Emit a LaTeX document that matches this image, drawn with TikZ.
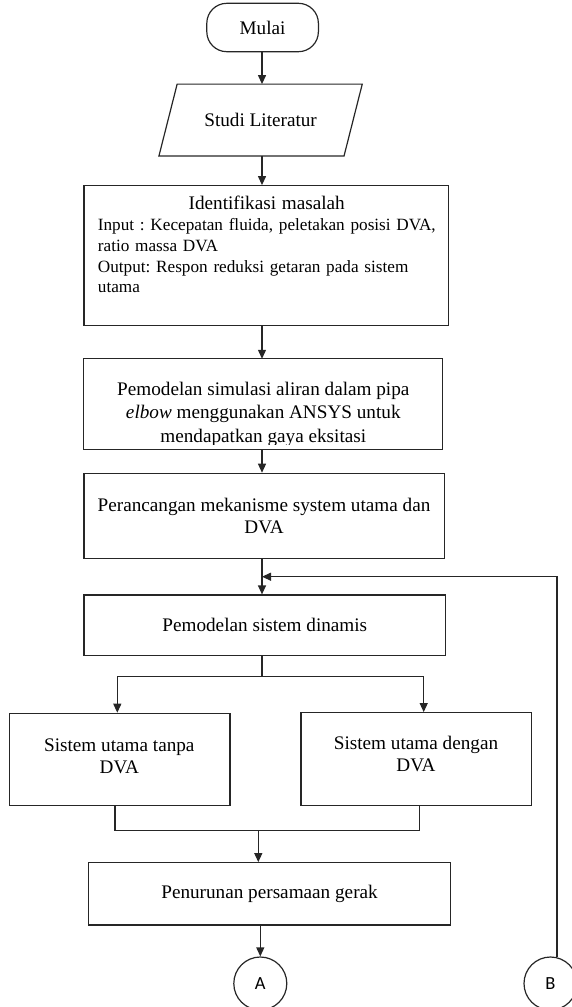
\documentclass[tikz,border=0pt]{standalone}
\usepackage{fontspec}
\setmainfont{Liberation Serif}
\newfontfamily\connfont{Carlito}
\usetikzlibrary{arrows.meta,calc}
\frenchspacing
\begin{document}
\begin{tikzpicture}[x=1pt,y=-1pt,
  line/.style={draw=black!85, line width=1.2pt},
  arr/.style={line, -{Triangle[length=9pt,width=8pt]}},
  fbox/.style={line, rectangle, inner sep=0pt},
  big/.style={font=\fontsize{19.2}{22.5}\selectfont, align=center, inner sep=0pt},
  conn/.style={line, circle, inner sep=0pt, minimum size=53pt, font=\connfont\fontsize{18.5}{18.5}\selectfont}]
\clip (0,0) rectangle (572,1007);
\coordinate (spine) at (262,0);

% start
\node[fbox, rounded corners=20pt, minimum width=111.6pt, minimum height=48.4pt, big] (mulai) at (262.6,27.5) {Mulai};

% literature study (parallelogram)
\node[big, minimum width=184.7pt, minimum height=71.4pt] (studi) at (260.6,120) {Studi Literatur};
\draw[line] ($(studi.north west)+(9.1,0)$) -- ($(studi.north east)+(9.1,0)$) -- ($(studi.south east)+(-9.1,0)$) -- ($(studi.south west)+(-9.1,0)$) -- cycle;

% problem identification
\node[fbox, minimum width=364.7pt, minimum height=140pt] (idf) at (266.25,255.7) {};
\node[anchor=north west, inner sep=0pt, text width=337.6pt, align=left, font=\fontsize{17.2}{20.8}\selectfont] (idfT) at (97.7,195.9)
  {\makebox[337.6pt][c]{\fontsize{19.2}{20.8}\selectfont Identifikasi masalah}\\
   \makebox[337.6pt][s]{Input : Kecepatan fluida, peletakan posisi DVA,}\\
   ratio massa DVA\\
   \makebox[337.6pt][s]{Output: Respon reduksi getaran pada sistem}\\
   utama};

% flow simulation (text clipped at the bottom as in the original)
\node[inner sep=0pt, minimum width=358.1pt, minimum height=90pt] (sim) at (262.95,404) {};
\begin{scope}
  \clip ($(sim.north west)+(1,1)$) rectangle ($(sim.south east)+(-1,-4.5)$);
  \node[big, font=\fontsize{19.2}{23.5}\selectfont, anchor=north] (simT) at (263.3,381.9)
    {Pemodelan simulasi aliran dalam pipa\\ \textit{elbow} menggunakan ANSYS untuk\\ mendapatkan gaya eksitasi};
\end{scope}
\draw[line] (sim.north west) rectangle (sim.south east);

% design
\node[fbox, big, minimum width=360.3pt, minimum height=85pt] (per) at (264.05,515.8) {Perancangan mekanisme system utama dan\\ DVA};

% dynamic modelling
\node[fbox, big, minimum width=361.8pt, minimum height=60.7pt] (din) at (264.8,625.35) {Pemodelan sistem dinamis};

% two branches
\node[fbox, minimum width=220.7pt, minimum height=92.4pt] (lft) at (119.65,759.5) {};
\node[big, anchor=north] (lftT) at (119.3,738.5) {Sistem utama tanpa\\ DVA};
\node[fbox, minimum width=230.3pt, minimum height=93pt] (rgt) at (416.15,759.2) {};
\node[big, anchor=north] (rgtT) at (416,735.9) {Sistem utama dengan\\ DVA};

% equations of motion
\node[fbox, big, minimum width=362.5pt, minimum height=62.3pt] (pen) at (269.55,893.85) {Penurunan persamaan gerak};

% connectors (off-page)
\node[conn] (A) at (260.3,983.5) {A};
\node[conn] (B) at (550.5,983.5) {B};

% main spine
\draw[arr] (mulai.south -| spine) -- (studi.north -| spine);
\draw[arr] (studi.south -| spine) -- (idf.north -| spine);
\draw[arr] (idf.south -| spine) -- (sim.north -| spine);
\draw[arr] (sim.south -| spine) -- (per.north -| spine);
\draw[arr] (per.south -| spine) -- (din.north -| spine);

% feedback from B
\coordinate (fbj) at (262,576.7);
\draw[arr] (B.76) |- (fbj);

% split
\coordinate (brC) at (262,676.7);
\coordinate (brL) at (117.3,676.7);
\coordinate (brR) at (423.7,676.7);
\draw[line] (din.south -| spine) -- (brC);
\draw[line] (brL) -- (brR);
\draw[arr] (brL) -- (brL |- lft.north);
\draw[arr] (brR) -- (brR |- rgt.north);

% merge
\coordinate (mL) at (115,830.5);
\coordinate (mR) at (419.7,830.5);
\coordinate (mC) at (258.3,830.5);
\draw[line] (lft.south -| mL) -- (mL) -- (mR) -- (rgt.south -| mR);
\draw[arr] (mC) -- (mC |- pen.north);

% to A
\draw[arr] (pen.south -| A) -- (A.north);
\end{tikzpicture}
\end{document}
